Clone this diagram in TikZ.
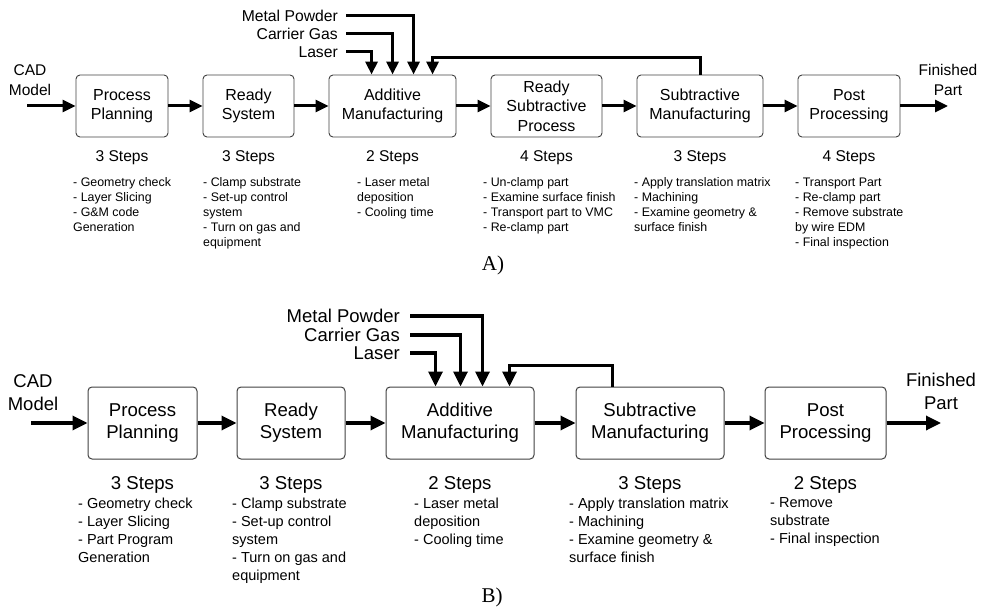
\documentclass[tikz,border=0pt]{standalone}
\usepackage{fontspec}
\setmainfont{Liberation Sans}
\newfontfamily\labserif{Liberation Serif}
\usetikzlibrary{arrows.meta}
\tikzset{
  boxA/.style={draw=black!75, line width=0.9pt, rounded corners=4pt, align=center, inner sep=0pt, minimum height=62pt, font=\fontsize{16}{19.5}\selectfont},
  boxB/.style={draw=black!75, line width=1pt, rounded corners=4pt, align=center, inner sep=0pt, minimum height=72pt, font=\fontsize{18.6}{22}\selectfont},
  flowA/.style={line width=3pt, -{Triangle[length=13pt,width=12pt]}},
  flowB/.style={line width=3.3pt, -{Triangle[length=15pt,width=14pt]}},
  fbA/.style={line width=3pt, -{Triangle[length=13pt,width=12pt]}, rounded corners=0pt},
  inA/.style={inner sep=0pt, anchor=east, font=\fontsize{15.7}{18}\selectfont},
  inB/.style={inner sep=0pt, anchor=east, font=\fontsize{18.5}{21}\selectfont},
  endA/.style={inner sep=0pt, align=center, font=\fontsize{15.5}{20}\selectfont},
  endB/.style={inner sep=0pt, align=center, font=\fontsize{18.5}{23}\selectfont},
  stA/.style={inner sep=0pt, anchor=base, font=\fontsize{15.6}{18}\selectfont},
  stB/.style={inner sep=0pt, anchor=base, font=\fontsize{18.6}{21}\selectfont},
  itA/.style={inner sep=0pt, anchor=north west, align=left, font=\fontsize{12.4}{15}\selectfont},
  itB/.style={inner sep=0pt, anchor=north west, align=left, font=\fontsize{14.5}{18}\selectfont},
  panel/.style={inner sep=0pt, font=\labserif\fontsize{21}{21}\selectfont}
}
\begin{document}
\begin{tikzpicture}[x=1pt,y=-1pt]
\useasboundingbox (0,0) rectangle (982,609);

% ---------------- Panel A ----------------
\node[boxA, minimum width=92pt]  (ppA)  at (122,106)   {Process\\Planning};
\node[boxA, minimum width=91pt]  (rsA)  at (248.5,106) {Ready\\System};
\node[boxA, minimum width=127pt] (amA)  at (392.5,106) {Additive\\Manufacturing};
\node[boxA, minimum width=111pt] (rspA) at (546.5,106) {Ready\\Subtractive\\Process};
\node[boxA, minimum width=126pt] (subA) at (700,106)   {Subtractive\\Manufacturing};
\node[boxA, minimum width=102pt] (ppoA) at (849,106)   {Post\\Processing};

\node[endA] (cadAt) at (30,80) {CAD\\Model};
\node[endA] (finAt) at (948,79.5) {Finished\\Part};
\coordinate (cadA) at (27,106);
\coordinate (finA) at (948,106);

\draw[flowA] (cadA) -- (ppA.west);
\draw[flowA] (ppA.east) -- (rsA.west);
\draw[flowA] (rsA.east) -- (amA.west);
\draw[flowA] (amA.east) -- (rspA.west);
\draw[flowA] (rspA.east) -- (subA.west);
\draw[flowA] (subA.east) -- (ppoA.west);
\draw[flowA] (ppoA.east) -- (finA);

\node[inA] (mpA) at (338,16) {Metal Powder};
\node[inA] (cgA) at (338,34) {Carrier Gas};
\node[inA] (lsA) at (338,52) {Laser};
\draw[fbA] ([xshift=8pt]mpA.east) -| ([xshift=85pt]amA.north west);
\draw[fbA] ([xshift=8pt]cgA.east) -| ([xshift=64pt]amA.north west);
\draw[fbA] ([xshift=8pt]lsA.east) -| ([xshift=43pt]amA.north west);
\draw[fbA] (subA.north) -- ++(0,-17) -| ([xshift=104pt]amA.north west);

\node[stA] (sA1) at (122,162)   {3 Steps};
\node[stA] (sA2) at (248.5,162) {3 Steps};
\node[stA] (sA3) at (392.5,162) {2 Steps};
\node[stA] (sA4) at (546.5,162) {4 Steps};
\node[stA] (sA5) at (700,162)   {3 Steps};
\node[stA] (sA6) at (849,162)   {4 Steps};

\node[itA] (iA1) at (73,177.3)  {- Geometry check\\- Layer Slicing\\- G\&M code\\Generation};
\node[itA] (iA2) at (203,177.3) {- Clamp substrate\\- Set-up control\\system\\- Turn on gas and\\equipment};
\node[itA] (iA3) at (357,177.3) {- Laser metal\\deposition\\- Cooling time};
\node[itA] (iA4) at (483,177.3) {- Un-clamp part\\- Examine surface finish\\- Transport part to VMC\\- Re-clamp part};
\node[itA] (iA5) at (634,177.3) {- Apply translation matrix\\- Machining\\- Examine geometry \&\\surface finish};
\node[itA] (iA6) at (795,177.3) {- Transport Part\\- Re-clamp part\\- Remove substrate\\by wire EDM\\- Final inspection};

\node[panel] (labA) at (493,265) {A)};

% ---------------- Panel B ----------------
\node[boxB, minimum width=109pt] (ppB)  at (142.5,423) {Process\\Planning};
\node[boxB, minimum width=108pt] (rsB)  at (291,423)   {Ready\\System};
\node[boxB, minimum width=148pt] (amB)  at (460,423)   {Additive\\Manufacturing};
\node[boxB, minimum width=148pt] (subB) at (650,423)   {Subtractive\\Manufacturing};
\node[boxB, minimum width=121pt] (ppoB) at (825.5,423) {Post\\Processing};

\node[endB] (cadBt) at (33,392.5) {CAD\\Model};
\node[endB] (finBt) at (941,391.5) {Finished\\Part};
\coordinate (cadB) at (31,423);
\coordinate (finB) at (941,423);

\draw[flowB] (cadB) -- (ppB.west);
\draw[flowB] (ppB.east) -- (rsB.west);
\draw[flowB] (rsB.east) -- (amB.west);
\draw[flowB] (amB.east) -- (subB.west);
\draw[flowB] (subB.east) -- (ppoB.west);
\draw[flowB] (ppoB.east) -- (finB);

\node[inB] (mpB) at (400,316) {Metal Powder};
\node[inB] (cgB) at (400,335) {Carrier Gas};
\node[inB] (lsB) at (400,353) {Laser};
\draw[flowB] ([xshift=10pt]mpB.east) -| ([xshift=97pt]amB.north west);
\draw[flowB] ([xshift=10pt]cgB.east) -| ([xshift=75pt]amB.north west);
\draw[flowB] ([xshift=10pt]lsB.east) -| ([xshift=50pt]amB.north west);
\draw[flowB] ([xshift=37pt]subB.north west) -- ++(0,-21) -| ([xshift=124pt]amB.north west);

\node[stB] (sB1) at (142.5,489) {3 Steps};
\node[stB] (sB2) at (291,489)   {3 Steps};
\node[stB] (sB3) at (460,489)   {2 Steps};
\node[stB] (sB4) at (650,489)   {3 Steps};
\node[stB] (sB5) at (825.5,489) {2 Steps};

\node[itB] (iB1) at (78,497.4)  {- Geometry check\\- Layer Slicing\\- Part Program\\Generation};
\node[itB] (iB2) at (232,497.4) {- Clamp substrate\\- Set-up control\\system\\- Turn on gas and\\equipment};
\node[itB] (iB3) at (414,497.4) {- Laser metal\\deposition\\- Cooling time};
\node[itB] (iB4) at (569,497.4) {- Apply translation matrix\\- Machining\\- Examine geometry \&\\surface finish};
\node[itB] (iB5) at (770,497.4) {- Remove\\substrate\\- Final inspection};

\node[panel] (labB) at (492,597) {B)};
\end{tikzpicture}
\end{document}
